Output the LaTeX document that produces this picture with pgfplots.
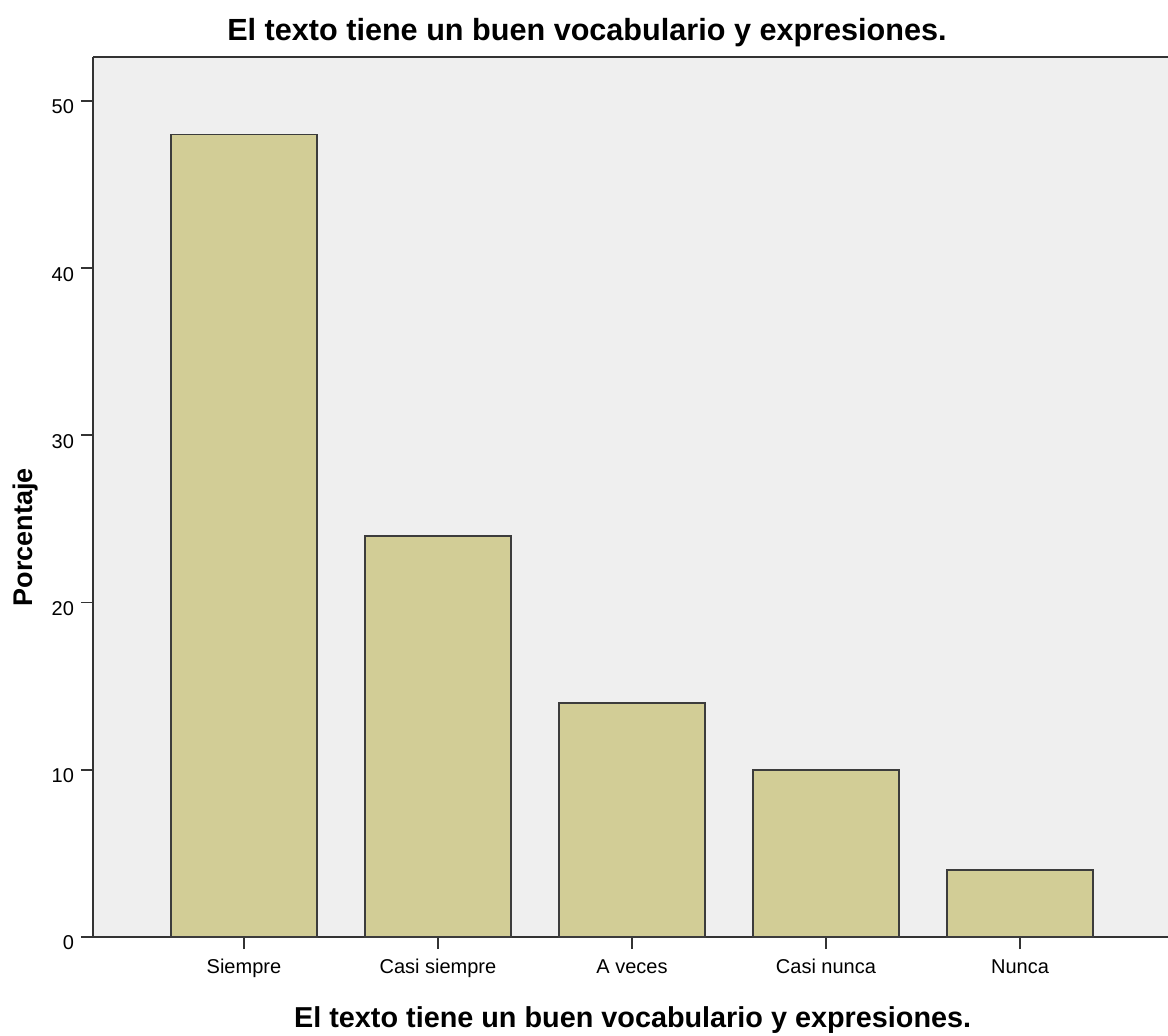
\documentclass[border=0pt]{standalone}
\usepackage{pgfplots}
\pgfplotsset{compat=1.18}
\usepackage{fontspec}
\setmainfont{Liberation Sans}
\definecolor{bg}{HTML}{EFEFEF}
\definecolor{barfill}{HTML}{D2CD96}
\definecolor{baredge}{HTML}{3C3C3C}
\begin{document}
\begin{tikzpicture}
\begin{axis}[
  scale only axis,
  width=537.5pt, height=440pt,
  xmin=-0.778, xmax=4.763,
  ymin=0, ymax=52.63,
  axis x line=box, axis y line=left,
  axis line style={-, line width=0.9pt, color=black!80},
  axis background/.style={fill=bg},
  xtick={0,1,2,3,4},
  xticklabels={Siempre,Casi siempre,A veces,Casi nunca,Nunca},
  ytick={0,10,20,30,40,50},
  tick align=outside,
  major tick length=6pt,
  tick style={line width=0.9pt, color=black!80},
  xtick pos=bottom, ytick pos=left,
  ticklabel style={font=\fontsize{10}{12}\selectfont},
  /pgf/number format/assume math mode=true,
  xticklabel style={yshift=-1.7pt},
  yticklabel style={xshift=0pt, yshift=-3pt},
  title={\bfseries\fontsize{15.3}{18}\selectfont El texto tiene un buen vocabulario y expresiones.},
  title style={at={(rel axis cs:0.4595,1)}, anchor=base, yshift=2pt},
  xlabel={\bfseries\fontsize{14.4}{17}\selectfont El texto tiene un buen vocabulario y expresiones.},
  xlabel style={at={(rel axis cs:0.502,0)}, anchor=base, yshift=-45pt},
  ylabel={\bfseries\fontsize{13.5}{16}\selectfont Porcentaje},
  ylabel style={at={(rel axis cs:0,0.4545)}, anchor=base, yshift=30pt},
  clip=false,
]
\addplot[ybar, bar width=73pt, fill=barfill, draw=baredge, line width=0.9pt]
  coordinates {(0,48) (1,24) (2,14) (3,10) (4,4)};
\end{axis}
\pgfresetboundingbox
\path ([xshift=-46.5pt,yshift=-49pt]current axis.south west) rectangle ([yshift=28.5pt]current axis.north east);
\end{tikzpicture}
\end{document}
